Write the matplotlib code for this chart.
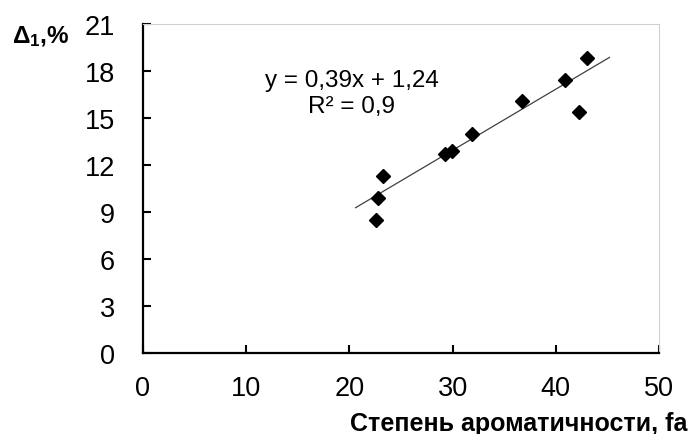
import matplotlib
matplotlib.use("Agg")
import matplotlib.pyplot as plt
import numpy as np

plt.rcParams['font.family'] = ['Liberation Sans', 'DejaVu Sans']
plt.rcParams['mathtext.fontset'] = 'custom'
plt.rcParams['mathtext.rm'] = 'Liberation Sans'
plt.rcParams['mathtext.bf'] = 'Liberation Sans:bold'

# Aromaticity degree vs. Delta_1
aromaticity = [22.6, 22.8, 23.3, 29.3, 29.9, 31.9, 36.7, 40.9, 42.2, 43.0]
delta1 = [8.5, 9.9, 11.3, 12.7, 12.9, 14.0, 16.1, 17.4, 15.4, 18.8]

# Linear trend: y = 0.39x + 1.24
slope, intercept = 0.39, 1.24
trend_range = [20.6, 45.2]

x_ticks = [0, 10, 20, 30, 40, 50]
y_ticks = [0, 3, 6, 9, 12, 15, 18, 21]

W, H = 691, 435
fig = plt.figure(figsize=(W / 100, H / 100), dpi=100)
ax = fig.add_axes([143 / W, 1 - 354 / H, (659 - 143) / W, (354 - 25) / H])

tx = np.array(trend_range)
ax.plot(tx, slope * tx + intercept, color='#404040', lw=0.9, zorder=2)
ax.plot(aromaticity, delta1, linestyle='none', marker='D', color='black',
        markersize=7.3, zorder=3)

ax.set_xlim(0, 50)
ax.set_ylim(0, 21)
ax.set_xticks(x_ticks)
ax.set_yticks(y_ticks)

for side in ('left', 'bottom'):
    ax.spines[side].set_linewidth(1.6)
    ax.spines[side].set_color('black')
for side in ('top', 'right'):
    ax.spines[side].set_linewidth(0.8)
    ax.spines[side].set_color('#d0d0d0')

ax.tick_params(axis='both', direction='in', length=6, width=1.5,
               labelsize=19.5, colors='black')
ax.tick_params(axis='y', pad=20)
ax.tick_params(axis='x', pad=16)
ax.tick_params(top=False, right=False)

fig.text(352 / W, 1 - 87 / H, 'y = 0,39x + 1,24', fontsize=17.5,
         ha='center', va='baseline')
fig.text(352 / W, 1 - 113 / H, 'R² = 0,9', fontsize=17.5,
         ha='center', va='baseline')

fig.text(12 / W, 1 - 43 / H, r'$\mathbf{\Delta_1}$,%', fontsize=17.5,
         fontweight='bold', ha='left', va='baseline')
fig.text(687 / W, 1 - 431 / H, 'Степень ароматичности, fa', fontsize=18,
         fontweight='bold', ha='right', va='baseline')

fig.savefig('out.png', dpi=100)
